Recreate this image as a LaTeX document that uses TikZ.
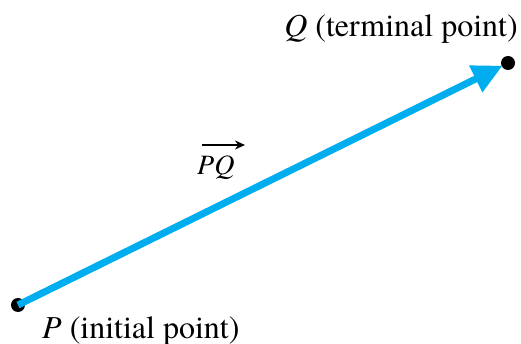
\documentclass[tikz,border=0pt]{standalone}
\usepackage{fontspec}
\setmainfont{texgyretermes}[Extension=.otf,UprightFont=*-regular,ItalicFont=*-italic,BoldFont=*-bold]
\usetikzlibrary{arrows.meta}
\definecolor{vecblue}{RGB}{0,174,239}
\begin{document}
\begin{tikzpicture}[x=1pt,y=-1pt,
  dot/.style={circle,fill=black,inner sep=0pt,minimum size=14pt},
  lbl/.style={font=\fontsize{32}{36}\selectfont,inner sep=0pt},
  vlbl/.style={font=\fontsize{28}{32}\selectfont,inner sep=0pt},
  vec/.style={vecblue,line width=7pt,-{Triangle[length=30pt,width=28pt]},shorten >=6pt}]
\useasboundingbox (0,0) rectangle (521,344);
\node[dot] (P) at (18,305) {};
\node[dot] (Q) at (508,63) {};
\draw[vec] (P.center) -- (Q.center);
\node[lbl,anchor=base east] (Ql) at (518,37) {\textit{Q} (terminal point)};
\node[lbl,anchor=base west] (Pl) at (42,338) {\textit{P} (initial point)};
\node[vlbl,anchor=base west] (PQ) at (197,175) {\textit{PQ}};
\coordinate (ha) at (202,145);
\coordinate (hb) at (245,145);
\draw[line width=2.4pt,-{Stealth[length=10pt,width=9pt]}] (ha) -- (hb);
\end{tikzpicture}
\end{document}
